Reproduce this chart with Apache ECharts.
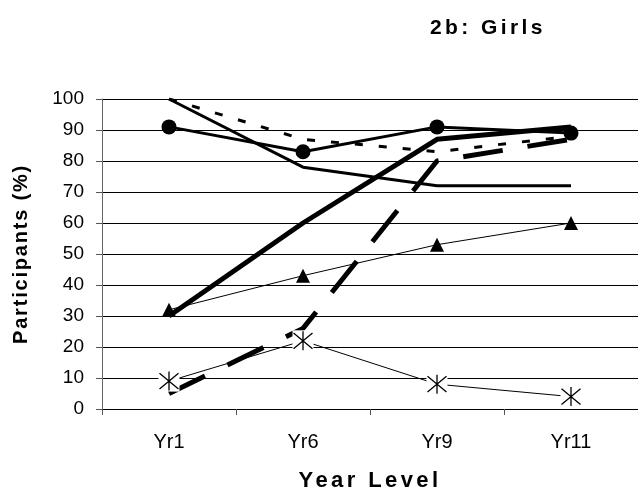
<!DOCTYPE html>
<html>
<head>
<meta charset="utf-8">
<script src="https://cdn.jsdelivr.net/npm/echarts@6/dist/echarts.min.js"></script>
<style>html,body{margin:0;padding:0;background:#fff;}#c{width:638px;height:502px;}</style>
</head>
<body>
<div id="c"></div>
<script>
const categories = ['Yr1', 'Yr6', 'Yr9', 'Yr11'];
const yTicks = [0, 10, 20, 30, 40, 50, 60, 70, 80, 90, 100];
const circleSeries = [91, 83, 91, 89];
const thinSolid = [100, 78, 72, 72];
const dottedSeries = [100, 87, 83, 88];
const thickSolid = [30, 60, 87, 91];
const longDash = [5, 26, 80, 87];
const triangleSeries = [32, 43, 53, 60];
const starSeries = [9, 22, 8, 4];

const titleText = '2b: Girls';
const xName = 'Year Level';
const yName = 'Participants (%)';

// Bold headings in the reference are drawn with extra letter spacing.
const headingSpacing = {};
headingSpacing[titleText] = '3.4px';
headingSpacing[xName] = '3.4px';
headingSpacing[yName] = '1.8px';
(function () {
  const proto = CanvasRenderingContext2D.prototype;
  const orig = proto.fillText;
  proto.fillText = function (t, x, y, w) {
    if (!('letterSpacing' in this)) {
      return w === undefined ? orig.call(this, t, x, y) : orig.call(this, t, x, y, w);
    }
    const f = this.font;
    this.letterSpacing = headingSpacing[t] || '0px';
    this.font = f;
    const r = w === undefined ? orig.call(this, t, x, y) : orig.call(this, t, x, y, w);
    this.letterSpacing = '0px';
    this.font = f;
    return r;
  };
})();

const FONT = 'Liberation Sans, Arial, sans-serif';
const chart = echarts.init(document.getElementById('c'), null, {renderer: 'canvas'});
const starPath = 'path://M0,0L10,10M10,0L0,10M5,-1L5,11';

chart.setOption({
  animation: false,
  backgroundColor: '#fff',
  title: {
    text: titleText,
    left: 425, top: 13,
    textStyle: {fontFamily: FONT, fontWeight: 'bold', fontSize: 21, color: '#000'}
  },
  grid: {left: 102, right: 0, top: 99, bottom: 93, containLabel: false},
  xAxis: {
    type: 'category',
    data: categories,
    boundaryGap: true,
    name: xName,
    nameLocation: 'middle',
    nameGap: 61,
    nameTextStyle: {fontFamily: FONT, fontWeight: 'bold', fontSize: 22, color: '#000'},
    axisLine: {lineStyle: {color: '#000', width: 1}},
    axisTick: {show: true, length: 6, lineStyle: {color: '#555'}},
    axisLabel: {fontFamily: FONT, fontSize: 20, color: '#000', margin: 23},
    splitLine: {show: false}
  },
  yAxis: {
    type: 'value',
    min: yTicks[0], max: yTicks[yTicks.length - 1], interval: 10,
    name: yName,
    nameLocation: 'middle',
    nameGap: 71,
    nameTextStyle: {fontFamily: FONT, fontWeight: 'bold', fontSize: 20, color: '#000'},
    axisLine: {show: true, lineStyle: {color: '#666', width: 1}},
    axisTick: {show: true, length: 6, lineStyle: {color: '#555'}},
    axisLabel: {fontFamily: FONT, fontSize: 19, color: '#000', margin: 18},
    splitLine: {show: true, lineStyle: {color: '#000', width: 1}}
  },
  series: [
    {
      type: 'line', data: thinSolid, symbol: 'none', z: 2,
      lineStyle: {color: '#000', width: 3}
    },
    {
      type: 'line', data: dottedSeries, symbol: 'none', z: 2,
      lineStyle: {color: '#000', width: 3, type: [8, 16]}
    },
    {
      type: 'line', data: circleSeries, symbol: 'circle', symbolSize: 15, z: 3,
      itemStyle: {color: '#000'},
      lineStyle: {color: '#000', width: 3}
    },
    {
      type: 'line', data: thickSolid, symbol: 'none', z: 3,
      lineStyle: {color: '#000', width: 5}
    },
    {
      type: 'line', data: longDash, symbol: 'none', z: 3,
      lineStyle: {color: '#000', width: 5, type: [40, 25]}
    },
    {
      type: 'line', data: triangleSeries, symbol: 'triangle', symbolSize: 14, z: 4,
      itemStyle: {color: '#000'},
      lineStyle: {color: '#000', width: 1}
    },
    {
      type: 'line', data: starSeries, symbol: 'rect', symbolSize: 21, z: 5,
      itemStyle: {color: '#fff', borderWidth: 0},
      lineStyle: {color: '#000', width: 1}
    },
    {
      type: 'line', data: starSeries, symbol: starPath, symbolSize: 19, z: 6,
      itemStyle: {color: 'none', borderColor: '#000', borderWidth: 1.3},
      lineStyle: {width: 0, opacity: 0}
    }
  ]
});
</script>
</body>
</html>
